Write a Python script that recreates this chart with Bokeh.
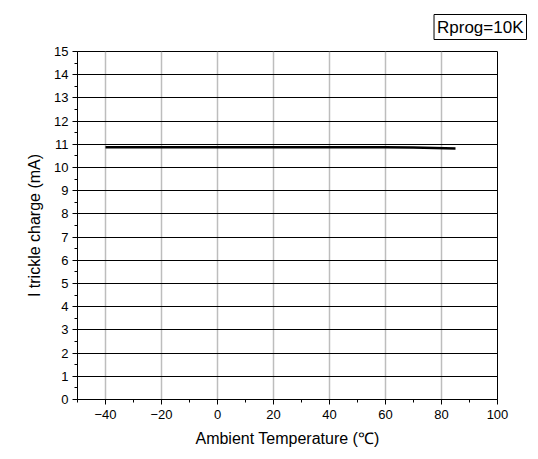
from bokeh.plotting import figure
from bokeh.models import FixedTicker, Title, Range1d
from bokeh.embed import file_html
from bokeh.resources import INLINE

temps = [-40, -20, 0, 20, 40, 60, 70, 85]
i_trickle = [10.87, 10.87, 10.87, 10.87, 10.87, 10.87, 10.86, 10.82]
x_ticks = [-40, -20, 0, 20, 40, 60, 80, 100]
x_minor = [-50, -30, -10, 10, 30, 50, 70, 90]
y_ticks = list(range(0, 16))
y_minor = [k + 0.5 for k in range(0, 15)]

FONT = "Liberation Sans"

p = figure(width=538, height=459, output_backend="svg", toolbar_location=None,
           x_range=Range1d(-50, 100), y_range=Range1d(0, 15),
           min_border_left=77, min_border_right=41, min_border_top=17, min_border_bottom=60)
p.background_fill_color = "white"
p.border_fill_color = "white"
p.outline_line_color = "black"
p.outline_line_width = 1

p.xaxis.ticker = FixedTicker(ticks=x_ticks, minor_ticks=x_minor)
p.yaxis.ticker = FixedTicker(ticks=y_ticks, minor_ticks=y_minor)

for ax in (p.xaxis[0], p.yaxis[0]):
    ax.axis_line_color = "black"
    ax.major_tick_line_color = "black"
    ax.minor_tick_line_color = "black"
    ax.major_tick_out = 5
    ax.major_tick_in = 0
    ax.minor_tick_out = 3
    ax.minor_tick_in = 0
    ax.major_label_text_font = FONT
    ax.major_label_text_font_size = "13px"
    ax.major_label_text_color = "black"
    ax.axis_label_text_font = FONT
    ax.axis_label_text_font_size = "16px"
    ax.axis_label_text_font_style = "normal"
    ax.axis_label_text_color = "black"

p.xaxis.axis_label = "Ambient Temperature (℃)"
p.yaxis.axis_label = "I trickle charge (mA)"
p.xaxis.major_label_standoff = 5
p.xaxis.axis_label_standoff = 8
p.yaxis.major_label_standoff = 4
p.yaxis.axis_label_standoff = 8

p.xgrid.ticker = FixedTicker(ticks=x_ticks)
p.ygrid.ticker = FixedTicker(ticks=y_ticks)
p.xgrid.grid_line_color = "#bdbdbd"
p.xgrid.grid_line_width = 1.5
p.ygrid.grid_line_color = "black"
p.ygrid.grid_line_width = 1

p.line(temps, i_trickle, line_color="black", line_width=2.5)

title = Title(text="Rprog=10K", align="right", offset=-29, standoff=24,
              text_font=FONT, text_font_size="17px", text_font_style="normal",
              text_color="black", border_line_color="black", border_line_width=1,
              background_fill_color="white", padding=3)
p.add_layout(title, "above")

open("out.html", "w").write(file_html(p, INLINE))
